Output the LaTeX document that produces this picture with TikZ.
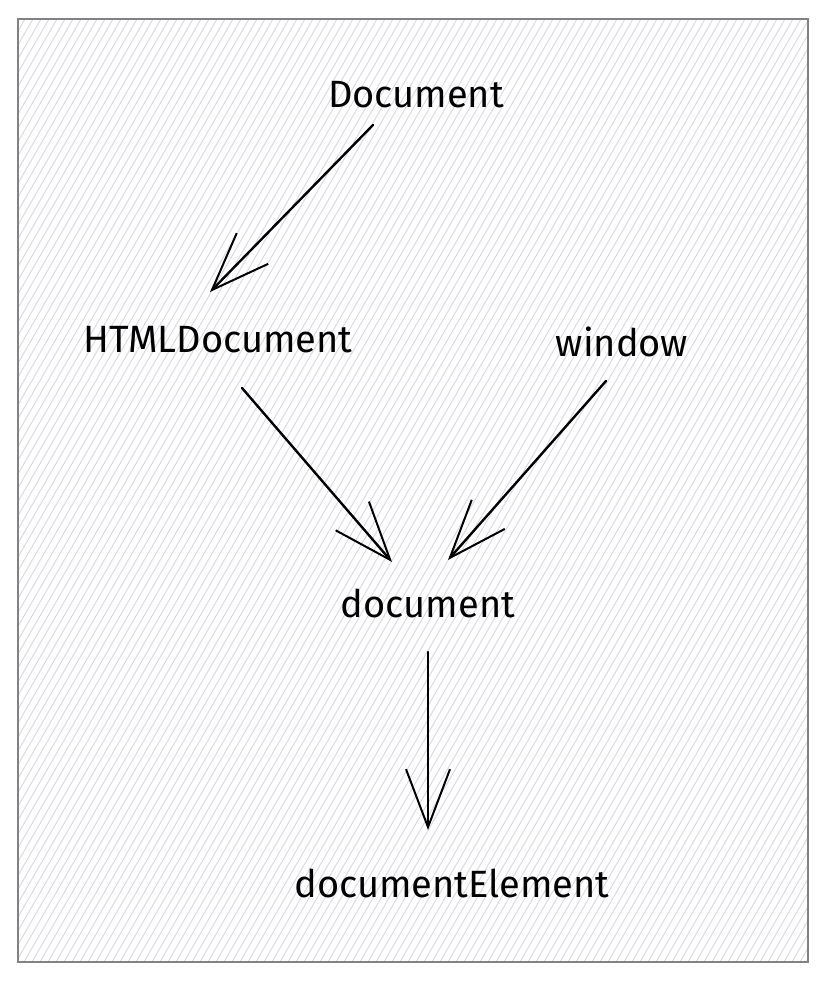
\documentclass[tikz,border=0pt]{standalone}
\usepackage{fontspec}
\setmainfont{Fira Sans}
\usetikzlibrary{arrows.meta,calc}

\begin{document}
\begin{tikzpicture}[x=1pt,y=1pt,
  label/.style={font=\fontsize{38}{44}\selectfont, inner sep=2pt},
  link/.style={line width=2.4pt, line cap=round, -{Straight Barb[length=58pt,width=44pt,line width=2pt]}}]
  \useasboundingbox (0,0) rectangle (827,981);
  % hatched frame
  \begin{scope}
    \clip (18,19) rectangle (808,962);
    \foreach \i in {-560,-552,...,810}
      \draw[line width=1pt, color={rgb,255:red,216;green,219;blue,224}] (\i,19) -- (\i+545,962);
  \end{scope}
  \draw[line width=2.2pt, color={rgb,255:red,130;green,130;blue,130}] (18,19) rectangle (808,962);

  \node[label] (Doc) at (416,886) {Document};
  \node[label] (HTMLDoc) at (218,641) {HTMLDocument};
  \node[label] (win) at (622,639) {window};
  \node[label] (doc) at (428,378) {document};
  \node[label] (docElem) at (452,98) {documentElement};

  \draw[link] ($(Doc)+(-43,-30)$) -- ($(HTMLDoc)+(-8,48)$);
  \draw[link] ($(HTMLDoc)+(24,-48)$) -- ($(doc)+(-36,41)$);
  \draw[link] ($(win)+(-16,-39)$) -- ($(doc)+(20,43)$);
  \draw[link] ($(doc)+(0,-49)$) -- ($(docElem)+(-24,53)$);
\end{tikzpicture}
\end{document}
